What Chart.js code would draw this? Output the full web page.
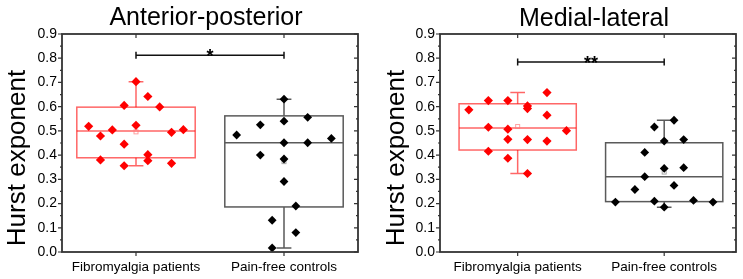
<!DOCTYPE html>
<html><head><meta charset="utf-8">
<script src="https://cdn.jsdelivr.net/npm/chart.js@4.4.0/dist/chart.umd.min.js"></script>
<style>
html,body{margin:0;padding:0;background:#fff;width:743px;height:279px;overflow:hidden}
.p{position:absolute;top:0;height:279px}
#w1{left:0;width:372px}
#w2{left:372px;width:371px}
</style></head><body>
<div id="w1" class="p"><canvas id="c1"></canvas></div>
<div id="w2" class="p"><canvas id="c2"></canvas></div>
<script>
const categories = ['Fibromyalgia patients', 'Pain-free controls'];
const panelTitles = ['Anterior-posterior', 'Medial-lateral'];
const yAxisTitle = 'Hurst exponent';
const yTickValues = [0.0, 0.1, 0.2, 0.3, 0.4, 0.5, 0.6, 0.7, 0.8, 0.9];

// Anterior-posterior: individual values and their horizontal jitter (category units)
const apFibroValues   = [0.519, 0.479, 0.380, 0.504, 0.605, 0.445, 0.356, 0.703, 0.523, 0.642, 0.402, 0.377, 0.599, 0.494, 0.366, 0.505];
const apFibroJitter   = [-0.32, -0.24, -0.24, -0.16, -0.08, -0.08, -0.08, 0, 0, 0.08, 0.08, 0.08, 0.16, 0.24, 0.24, 0.32];
const apControlValues = [0.483, 0.525, 0.400, 0.131, 0.017, 0.631, 0.540, 0.451, 0.384, 0.291, 0.190, 0.080, 0.556, 0.451, 0.469];
const apControlJitter = [-0.32, -0.16, -0.16, -0.08, -0.08, 0, 0, 0, 0, 0, 0.08, 0.08, 0.16, 0.16, 0.32];
// box statistics: [whisker low, Q1, median, Q3, whisker high, mean]
const apFibroBox   = [0.356, 0.389, 0.500, 0.598, 0.703, 0.496];
const apControlBox = [0.017, 0.186, 0.451, 0.562, 0.631, 0.373];

// Medial-lateral
const mlFibroValues   = [0.587, 0.625, 0.515, 0.416, 0.625, 0.507, 0.465, 0.387, 0.603, 0.592, 0.464, 0.324, 0.658, 0.565, 0.458, 0.501];
const mlFibroJitter   = [-0.333, -0.2, -0.2, -0.2, -0.067, -0.067, -0.067, -0.067, 0.067, 0.067, 0.067, 0.067, 0.2, 0.2, 0.2, 0.333];
const mlControlValues = [0.206, 0.258, 0.411, 0.311, 0.516, 0.210, 0.458, 0.345, 0.185, 0.544, 0.275, 0.464, 0.348, 0.213, 0.206];
const mlControlJitter = [-0.333, -0.2, -0.133, -0.133, -0.067, -0.067, 0, 0, 0, 0.067, 0.067, 0.133, 0.133, 0.2, 0.333];
const mlFibroBox   = [0.324, 0.421, 0.512, 0.612, 0.658, 0.518];
const mlControlBox = [0.185, 0.208, 0.311, 0.451, 0.544, 0.330];

// significance brackets
const significanceLabels = ['*', '**'];
const significanceLevels = [0.812, 0.784];

const FONT = "'Liberation Sans', Arial, sans-serif";
const RED = '#ff0000', BLACK = '#000000';

function points(values, jitter, center) {
  return values.map((v, i) => ({ x: center + jitter[i], y: v }));
}

const panelPlugin = {
  id: 'panel',
  beforeDatasetsDraw(chart) {
    const o = chart.options.plugins.panel;
    const ctx = chart.ctx, xs = chart.scales.x, ys = chart.scales.y;
    o.boxes.forEach(b => {
      const [lo, q1, med, q3, hi, mean] = b.stats;
      const X = v => xs.getPixelForValue(v), Y = v => ys.getPixelForValue(v);
      const xl = X(b.center - 0.4), xr = X(b.center + 0.4), xc = X(b.center);
      ctx.save();
      ctx.strokeStyle = b.line; ctx.lineWidth = 1.5;
      ctx.strokeRect(xl, Y(q3), xr - xl, Y(q1) - Y(q3));
      ctx.beginPath();
      ctx.moveTo(xl, Y(med)); ctx.lineTo(xr, Y(med));
      ctx.moveTo(xc, Y(q3)); ctx.lineTo(xc, Y(hi));
      ctx.moveTo(xc, Y(q1)); ctx.lineTo(xc, Y(lo));
      ctx.moveTo(X(b.center - 0.05), Y(hi)); ctx.lineTo(X(b.center + 0.05), Y(hi));
      ctx.moveTo(X(b.center - 0.05), Y(lo)); ctx.lineTo(X(b.center + 0.05), Y(lo));
      ctx.stroke();
      ctx.strokeStyle = b.meanColor; ctx.lineWidth = 1;
      ctx.strokeRect(xc - 2, Y(mean) - 2, 4, 4);
      ctx.restore();
    });
  },
  afterDatasetsDraw(chart) {
    const o = chart.options.plugins.panel;
    const ctx = chart.ctx, xs = chart.scales.x, ys = chart.scales.y;
    const a = chart.chartArea;
    ctx.save();
    // frame
    ctx.strokeStyle = '#333333'; ctx.lineWidth = 1.8;
    ctx.strokeRect(a.left, a.top, a.right - a.left, a.bottom - a.top);
    ctx.lineWidth = 1.2;
    ctx.beginPath();
    yTickValues.forEach((v, i) => {
      const y = ys.getPixelForValue(v);
      ctx.moveTo(a.left - 4, y); ctx.lineTo(a.left, y);
      ctx.moveTo(a.right, y); ctx.lineTo(a.right - 4, y);
      if (i < yTickValues.length - 1) {
        const ym = ys.getPixelForValue((v + yTickValues[i + 1]) / 2);
        ctx.moveTo(a.left - 2, ym); ctx.lineTo(a.left, ym);
        ctx.moveTo(a.right, ym); ctx.lineTo(a.right - 2, ym);
      }
    });
    categories.forEach((c, i) => {
      const x = xs.getPixelForValue(i + 1);
      ctx.moveTo(x, a.bottom); ctx.lineTo(x, a.bottom + 4);
      ctx.moveTo(x, a.top); ctx.lineTo(x, a.top + 4);
    });
    ctx.stroke();
    // significance bracket
    const sy = ys.getPixelForValue(o.sigLevel);
    const x1 = xs.getPixelForValue(1), x2 = xs.getPixelForValue(2);
    ctx.strokeStyle = '#111'; ctx.lineWidth = 1.5;
    ctx.beginPath();
    ctx.moveTo(x1, sy); ctx.lineTo(x2, sy);
    ctx.moveTo(x1, sy - 3.5); ctx.lineTo(x1, sy + 3.5);
    ctx.moveTo(x2, sy - 3.5); ctx.lineTo(x2, sy + 3.5);
    ctx.stroke();
    ctx.fillStyle = '#000';
    ctx.font = 'bold 18px ' + FONT;
    ctx.textAlign = 'center'; ctx.textBaseline = 'alphabetic';
    ctx.fillText(o.sigLabel, (x1 + x2) / 2, sy + 7);
    // panel title
    ctx.font = '25px ' + FONT;
    ctx.fillText(o.title, o.titleX, o.titleY);
    // y axis title
    ctx.translate(o.yTitleX, 158);
    ctx.rotate(-Math.PI / 2);
    ctx.font = '26px ' + FONT;
    ctx.fillText(yAxisTitle, 0, 0);
    ctx.restore();
  }
};

function makePanel(id, cfg) {
  return new Chart(document.getElementById(id), {
    type: 'scatter',
    data: {
      datasets: [
        { data: points(cfg.fibroValues, cfg.fibroJitter, 1), backgroundColor: RED, borderColor: RED,
          pointStyle: 'rectRot', pointRadius: 4.6, borderWidth: 0 },
        { data: points(cfg.controlValues, cfg.controlJitter, 2), backgroundColor: BLACK, borderColor: BLACK,
          pointStyle: 'rectRot', pointRadius: 4.4, borderWidth: 0 }
      ]
    },
    options: {
      responsive: true, maintainAspectRatio: false, animation: false,
      layout: { padding: { top: 34, right: cfg.padRight, left: 0, bottom: 0 } },
      plugins: {
        legend: { display: false }, tooltip: { enabled: false }, title: { display: false },
        panel: {
          boxes: [
            { center: 1, stats: cfg.fibroBox, line: 'rgba(255,0,0,0.6)', meanColor: 'rgba(255,120,120,0.7)' },
            { center: 2, stats: cfg.controlBox, line: '#5a5a5a', meanColor: '#aaaaaa' }
          ],
          sigLabel: cfg.sigLabel, sigLevel: cfg.sigLevel,
          title: cfg.title, titleX: cfg.titleX, titleY: cfg.titleY, yTitleX: cfg.yTitleX
        }
      },
      scales: {
        x: {
          type: 'linear', min: cfg.xMin, max: cfg.xMax,
          afterBuildTicks: s => { s.ticks = categories.map((c, i) => ({ value: i + 1 })); },
          afterFit: s => { s.height = 27; },
          ticks: { callback: v => categories[Math.round(v) - 1], font: { family: FONT, size: 13.5 },
                   color: '#000', padding: 7, maxRotation: 0, autoSkip: false },
          grid: { display: false, drawTicks: false }, border: { display: false }
        },
        y: {
          type: 'linear', min: 0, max: 0.9,
          afterBuildTicks: s => { s.ticks = yTickValues.map(v => ({ value: v })); },
          afterFit: s => { s.width = cfg.yWidth; },
          ticks: { callback: v => v.toFixed(1), font: { family: FONT, size: 14 }, color: '#000', padding: 5 },
          grid: { display: false, drawTicks: false }, border: { display: false }
        }
      }
    },
    plugins: [panelPlugin]
  });
}

makePanel('c1', {
  fibroValues: apFibroValues, fibroJitter: apFibroJitter, fibroBox: apFibroBox,
  controlValues: apControlValues, controlJitter: apControlJitter, controlBox: apControlBox,
  sigLabel: significanceLabels[0], sigLevel: significanceLevels[0],
  title: panelTitles[0], titleX: 206, titleY: 25, yTitleX: 25,
  xMin: 0.5, xMax: 2.5, yWidth: 62, padRight: 14
});
makePanel('c2', {
  fibroValues: mlFibroValues, fibroJitter: mlFibroJitter, fibroBox: mlFibroBox,
  controlValues: mlControlValues, controlJitter: mlControlJitter, controlBox: mlControlBox,
  sigLabel: significanceLabels[1], sigLevel: significanceLevels[1],
  title: panelTitles[1], titleX: 222, titleY: 26, yTitleX: 32,
  xMin: 0.47, xMax: 2.49, yWidth: 68, padRight: 7
});
</script>
</body></html>
